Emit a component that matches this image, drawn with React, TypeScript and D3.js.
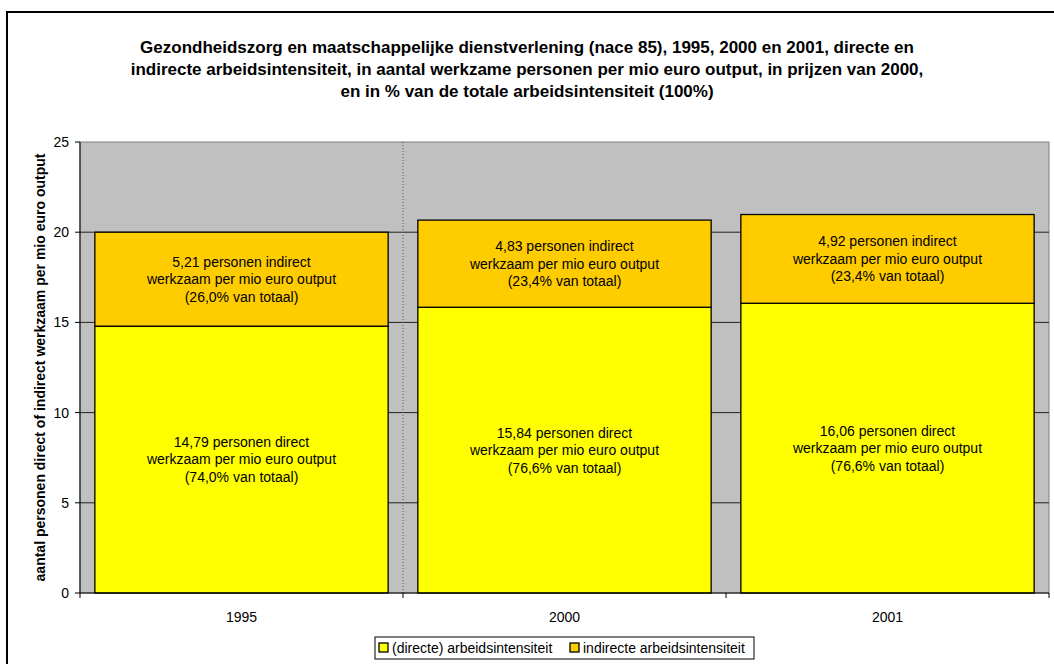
import React from 'react';
import * as d3 from 'd3';

const years = ['1995', '2000', '2001'];
const direct = [14.79, 15.84, 16.06];
const indirect = [5.21, 4.83, 4.92];
const directPct = ['74,0', '76,6', '76,6'];
const indirectPct = ['26,0', '23,4', '23,4'];
const yTicks = [0, 5, 10, 15, 20, 25];
const titleLines = [
  'Gezondheidszorg en maatschappelijke dienstverlening (nace 85), 1995, 2000 en 2001, directe en',
  'indirecte arbeidsintensiteit, in aantal werkzame personen per mio euro output, in prijzen van 2000,',
  'en in % van de totale arbeidsintensiteit (100%)',
];
const legendItems = ['(directe) arbeidsintensiteit', 'indirecte arbeidsintensiteit'];

const W = 1054;
const H = 664;
const plot = { left: 80, right: 1049, top: 142, bottom: 593 };
const font = 'Arial, "Liberation Sans", sans-serif';
const YELLOW = '#FFFF00';
const ORANGE = '#FFCC00';

const fmt = (v: number) => v.toFixed(2).replace('.', ',');

const App = () => {
  const x = d3.scaleBand<string>()
    .domain(years)
    .range([plot.left, plot.right])
    .paddingInner(0.092)
    .paddingOuter(0.046);
  const y = d3.scaleLinear().domain([0, 25]).range([plot.bottom, plot.top]);
  const step = x.step();

  // label blocks: three lines, centered in a segment
  const label = (cx: number, cy: number, lines: string[]) => (
    <text textAnchor="middle" fontSize={14} fontFamily={font} fill="#000">
      {lines.map((l, i) => (
        <tspan key={i} x={cx} y={cy + (i - 1) * 17.5} dy="0.35em">{l}</tspan>
      ))}
    </text>
  );

  return (
    <svg width={W} height={H} style={{ position: 'absolute', left: 0, top: 0, background: '#fff' }}>
      <rect x={7} y={12} width={1060} height={670} fill="#fff" stroke="#000" strokeWidth={2} />

      {titleLines.map((t, i) => (
        <text key={i} x={527} y={47 + i * 22} dy="0.35em" textAnchor="middle"
          fontSize={17} fontWeight="bold" fontFamily={font}>{t}</text>
      ))}

      {/* plot area */}
      <rect x={plot.left} y={plot.top} width={plot.right - plot.left} height={plot.bottom - plot.top}
        fill="#C0C0C0" stroke="#808080" strokeWidth={1} />
      {yTicks.slice(1, -1).map(t => (
        <line key={t} x1={plot.left} x2={plot.right} y1={y(t)} y2={y(t)} stroke="#222" strokeWidth={1} />
      ))}
      <line x1={plot.left + step} x2={plot.left + step} y1={plot.top} y2={plot.bottom}
        stroke="#555" strokeDasharray="1,2" />

      {years.map((yr, i) => {
        const bx = x(yr)!;
        const bw = x.bandwidth();
        const cx = bx + bw / 2;
        const top = direct[i] + indirect[i];
        return (
          <g key={yr}>
            <rect x={bx} y={y(direct[i])} width={bw} height={y(0) - y(direct[i])}
              fill={YELLOW} stroke="#000" strokeWidth={1.3} />
            <rect x={bx} y={y(top)} width={bw} height={y(direct[i]) - y(top)}
              fill={ORANGE} stroke="#000" strokeWidth={1.3} />
            {label(cx, (y(0) + y(direct[i])) / 2, [
              `${fmt(direct[i])} personen direct`,
              'werkzaam per mio euro output',
              `(${directPct[i]}% van totaal)`,
            ])}
            {label(cx, (y(direct[i]) + y(top)) / 2, [
              `${fmt(indirect[i])} personen indirect`,
              'werkzaam per mio euro output',
              `(${indirectPct[i]}% van totaal)`,
            ])}
          </g>
        );
      })}

      {/* y axis */}
      <line x1={plot.left} x2={plot.left} y1={plot.top} y2={plot.bottom} stroke="#000" />
      {yTicks.map(t => (
        <g key={t}>
          <line x1={plot.left - 5} x2={plot.left} y1={y(t)} y2={y(t)} stroke="#000" />
          <text x={plot.left - 11} y={y(t)} dy="0.35em" textAnchor="end" fontSize={14} fontFamily={font}>{t}</text>
        </g>
      ))}
      <text transform={`translate(40,${(plot.top + plot.bottom) / 2}) rotate(-90)`} textAnchor="middle"
        dy="0.35em" fontSize={14} fontWeight="bold" fontFamily={font}>
        aantal personen direct of indirect werkzaam per mio euro output
      </text>

      {/* x axis */}
      <line x1={plot.left} x2={plot.right} y1={plot.bottom} y2={plot.bottom} stroke="#000" />
      {d3.range(years.length + 1).map(i => (
        <line key={i} x1={plot.left + i * step} x2={plot.left + i * step} y1={plot.bottom} y2={plot.bottom + 5} stroke="#000" />
      ))}
      {years.map(yr => (
        <text key={yr} x={x(yr)! + x.bandwidth() / 2} y={617} dy="0.35em" textAnchor="middle"
          fontSize={14} fontFamily={font}>{yr}</text>
      ))}

      {/* legend */}
      <rect x={375} y={637} width={379} height={22} fill="#fff" stroke="#000" />
      {legendItems.map((l, i) => {
        const lx = i === 0 ? 379 : 570;
        return (
          <g key={l}>
            <rect x={lx} y={643} width={9} height={9} fill={i === 0 ? YELLOW : ORANGE} stroke="#000" strokeWidth={1.3} />
            <text x={lx + 13} y={648} dy="0.35em" fontSize={14} fontFamily={font}>{l}</text>
          </g>
        );
      })}
    </svg>
  );
};

export default App;
